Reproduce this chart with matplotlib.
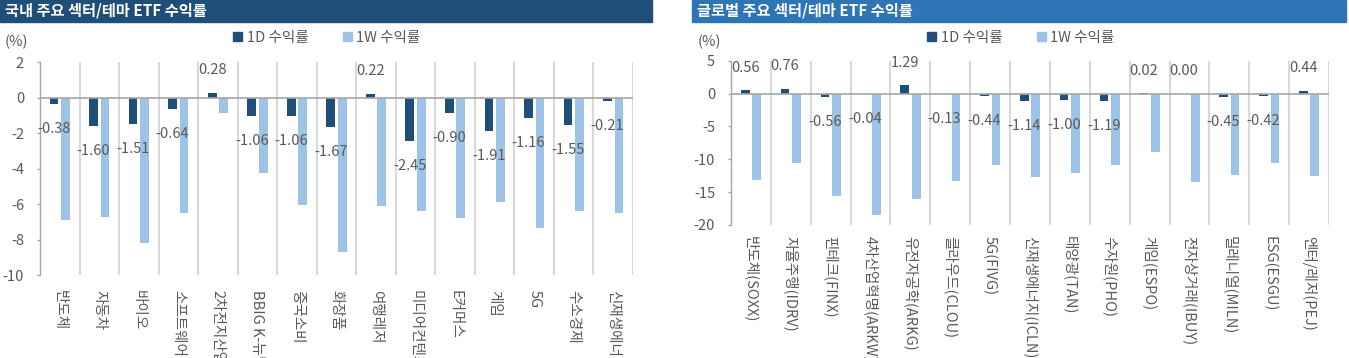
import numpy as np
import matplotlib
matplotlib.use("Agg")
import matplotlib.pyplot as plt
from matplotlib.patches import Rectangle, Patch

plt.rcParams['font.family'] = ['Noto Sans CJK KR', 'DejaVu Sans']

# ---- data ----
kr_labels = ['반도체', '자동차', '바이오', '소프트웨어', '2차전지산업', 'BBIG K-뉴딜', '중국소비',
             '화장품', '여행레저', '미디어컨텐츠', 'E커머스', '게임', '5G', '수소경제', '신재생에너지']
kr_1d = [-0.38, -1.60, -1.51, -0.64, 0.28, -1.06, -1.06, -1.67, 0.22, -2.45, -0.90, -1.91, -1.16, -1.55, -0.21]
kr_1w = [-6.92, -6.75, -8.17, -6.50, -0.85, -4.27, -6.07, -8.71, -6.11, -6.39, -6.79, -5.90, -7.37, -6.41, -6.48]

gl_labels = ['반도체(SOXX)', '자율주행(IDRV)', '핀테크(FINX)', '4차산업혁명(ARKW)', '유전자공학(ARKG)',
             '클라우드(CLOU)', '5G(FIVG)', '신재생에너지(ICLN)', '태양광(TAN)', '수자원(PHO)',
             '게임(ESPO)', '전자상거래(IBUY)', '밀레니얼(MILN)', 'ESG(ESGU)', '엔터/레저(PEJ)']
gl_1d = [0.56, 0.76, -0.56, -0.04, 1.29, -0.13, -0.44, -1.14, -1.00, -1.19, 0.02, 0.00, -0.45, -0.42, 0.44]
gl_1w = [-13.16, -10.53, -15.60, -18.43, -16.05, -13.27, -10.84, -12.66, -12.05, -10.94, -8.86, -13.52, -12.35, -10.63, -12.51]

c1d = '#1F4E79'
c1w = '#9DC3E6'
txt = '#595959'
grid_c = '#D9D9D9'
axis_c = '#A6A6A6'
W, H = 1349, 358

fig = plt.figure(figsize=(W / 100, H / 100), dpi=100)


def fx(px):
    return px / W


def fy(py):
    return 1 - py / H


def panel(rect, labels, d1, w1, ylim, yticks, label_pad):
    ax = fig.add_axes(rect)
    x = np.arange(len(labels))
    ax.bar(x - 0.145, d1, width=0.22, color=c1d, zorder=3)
    ax.bar(x + 0.145, w1, width=0.22, color=c1w, zorder=3)
    ax.set_xlim(-0.5, len(labels) - 0.5)
    ax.set_ylim(*ylim)
    ax.set_yticks(yticks)
    ax.set_yticklabels([str(t) for t in yticks])
    ax.vlines(np.arange(len(labels)) + 0.5, ylim[0], ylim[1], color=grid_c, lw=1.5, zorder=1)
    ax.axhline(0, color=axis_c, lw=1.2, zorder=4)
    for s in ['top', 'right', 'bottom']:
        ax.spines[s].set_visible(False)
    ax.spines['left'].set_color(axis_c)
    ax.spines['left'].set_linewidth(1.0)
    ax.tick_params(axis='y', colors=axis_c, labelcolor=txt, labelsize=10.5,
                   length=2.5, width=1.0, pad=9)
    ax.set_xticks(x)
    ax.set_xticklabels(labels, rotation=270, fontsize=10.5, color=txt, va='top', ha='center')
    ax.tick_params(axis='x', length=0, pad=label_pad)
    for xi, v in zip(x, d1):
        off = 16 if v >= 0 else -18
        ax.annotate(f'{v:.2f}', (xi - 0.145, v), xytext=(0, off), textcoords='offset points',
                    ha='center', va='center', fontsize=10.5, color=txt, zorder=5)
    return ax


panel([fx(40), fy(275), fx(633 - 40), fy(62) - fy(275)], kr_labels, kr_1d, kr_1w,
      (-10, 2), [2, 0, -2, -4, -6, -8, -10], 11)
panel([fx(731), fy(225), fx(1329 - 731), fy(60.7) - fy(225)], gl_labels, gl_1d, gl_1w,
      (-20, 5), [5, 0, -5, -10, -15, -20], 8)

# title bars
fig.patches.append(Rectangle((0, fy(22)), fx(652), 22 / H, transform=fig.transFigure,
                             color='#1F4E79', zorder=0))
fig.patches.append(Rectangle((fx(692), fy(22)), fx(1346 - 692), 22 / H, transform=fig.transFigure,
                             color='#2E75B6', zorder=0))
fig.text(fx(5), fy(11), '국내 주요 섹터/테마 ETF 수익률', color='white', fontsize=11,
         fontweight='bold', va='center', ha='left')
fig.text(fx(697), fy(11), '글로벌 주요 섹터/테마 ETF 수익률', color='white', fontsize=11,
         fontweight='bold', va='center', ha='left')

# unit labels
fig.text(fx(5), fy(42), '(%)', color=txt, fontsize=10.5, va='center', ha='left')
fig.text(fx(698), fy(42), '(%)', color=txt, fontsize=10.5, va='center', ha='left')

# legends
handles = [Patch(color=c1d, label='1D 수익률'), Patch(color=c1w, label='1W 수익률')]
for cx in [327, 1021]:
    leg = fig.legend(handles=handles, loc='center', bbox_to_anchor=(fx(cx), fy(38)), ncol=2,
                     frameon=False, fontsize=10.5, handlelength=0.6, handleheight=0.6,
                     handletextpad=0.3, columnspacing=2.4, borderaxespad=0, borderpad=0)
    for t in leg.get_texts():
        t.set_color(txt)

fig.savefig('out.png', dpi=100)
